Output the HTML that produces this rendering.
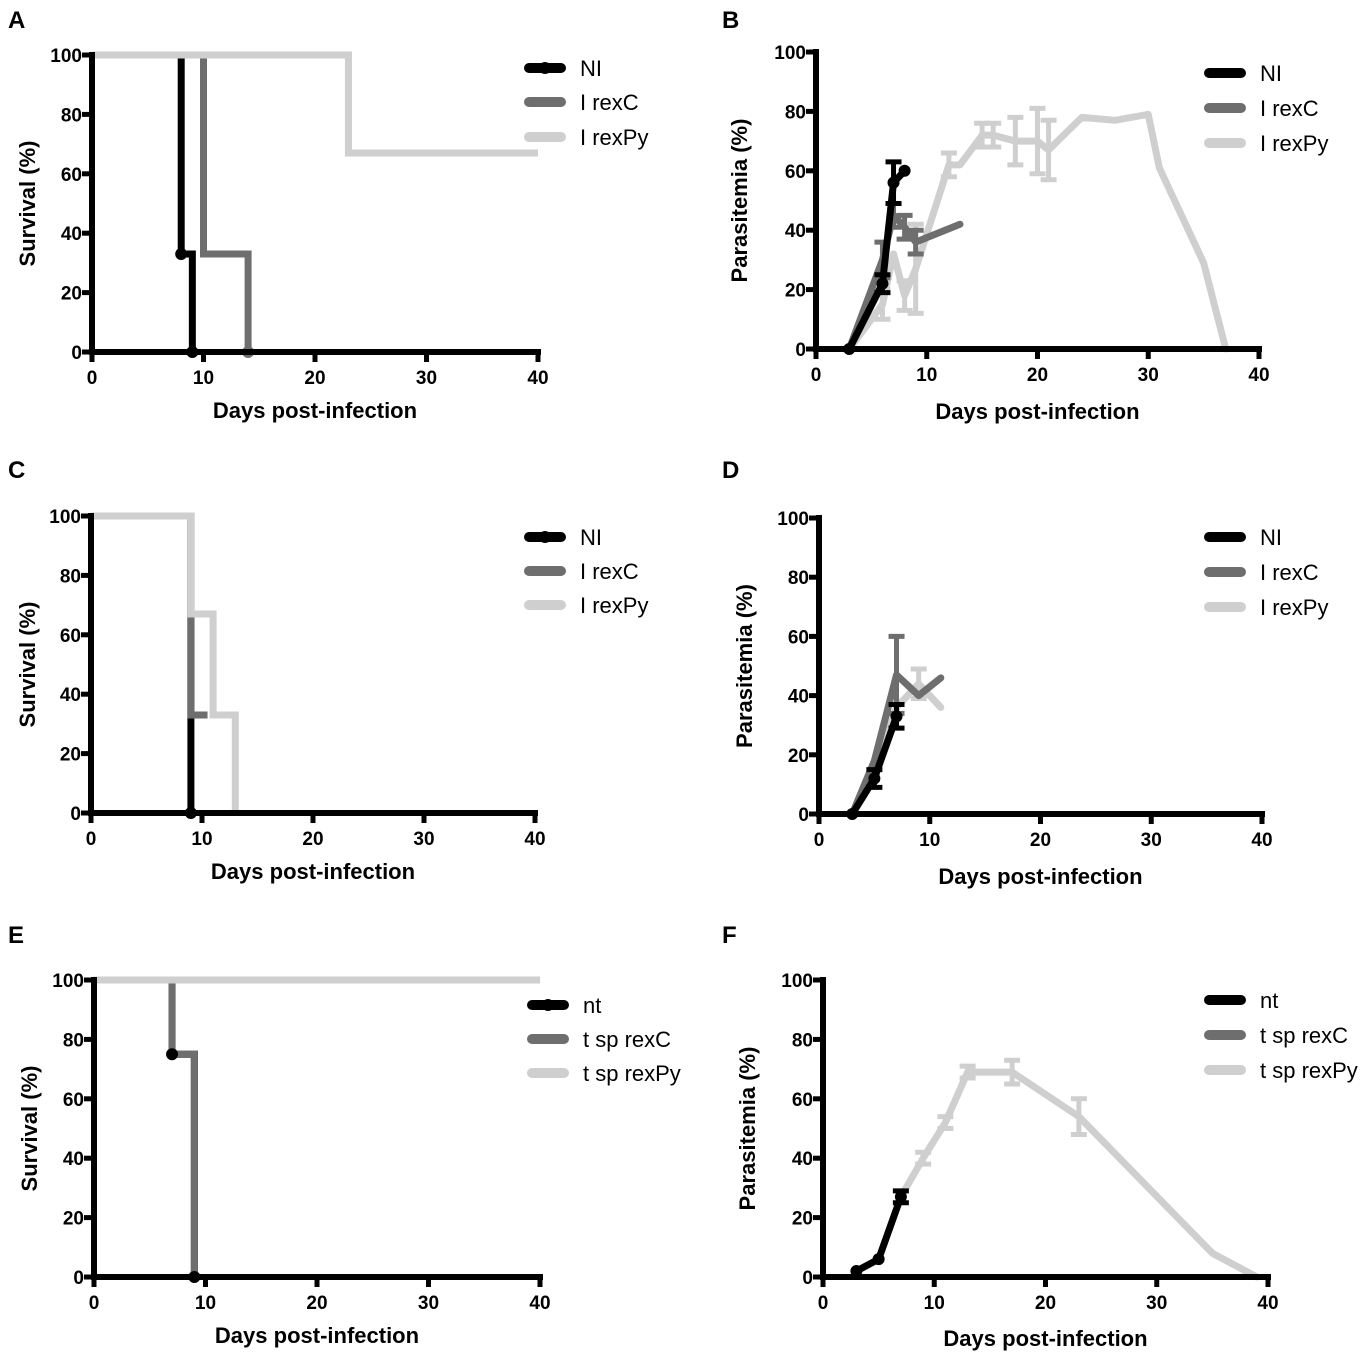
<!DOCTYPE html>
<html><head><meta charset="utf-8"><style>
html,body{margin:0;padding:0;background:#fff;}
svg{display:block;font-family:"Liberation Sans",Arial,sans-serif;}
</style></head><body>
<svg id="fig" width="1369" height="1358" viewBox="0 0 1369 1358"></svg>
<script>
const ticksX=[0,10,20,30,40];
const ticksY=[0,20,40,60,80,100];
const legendAB=["NI","I rexC","I rexPy"];
const legendEF=["nt","t sp rexC","t sp rexPy"];
// Survival data (step functions): [day, %]
const survA_NI=[[0,100],[8,33],[9,0]];
const survA_C=[[0,100],[10,33],[14,0]];
const survA_Py=[[0,100],[23,67],[40,67]];
const survC_NI=[[0,100],[9,0]];
const survC_C=[[0,100],[9,33],[10.5,33]];
const survC_Py=[[0,100],[9,67],[11,33],[13,0]];
const survE_NI=[[0,100],[7,75],[9,0]];
const survE_C=[[0,100],[7,75],[9,0]];
const survE_Py=[[0,100],[40,100]];
const markA_NI=[[8,33],[9,0]];
const markA_C=[[14,0]];
const markC_NI=[[9,0]];
const markE_NI=[[7,75],[9,0]];
// Parasitemia: [day, %, err]
const parB_NI=[[3,0,0],[6,22,3],[7,56,7],[8,60,0]];
const parB_C=[[3,0,0],[6,30,6],[7,45,4],[8,41,4],[9,36,4],[13,42,0]];
const parB_Py=[[3,0,0],[6,15,5],[7,32,0],[8,18,5],[9,27,15],[12,62,4],[13,62,0],[15,72,4],[16,72,4],[18,70,8],[20,70,11],[21,67,10],[24,78,0],[27,77,0],[30,79,0],[31,61,0],[35,29,0],[37,0,0]];
const parD_NI=[[3,0,0],[5,12,3],[7,33,4]];
const parD_C=[[3,0,0],[5,18,0],[7,47,13],[9,40,0],[11,46,0]];
const parD_Py=[[3,0,0],[5,15,0],[7,36,0],[9,44,5],[11,36,0]];
const parF_NI=[[3,2,0],[5,6,0],[7,27,2]];
const parF_Py=[[7,27,0],[9,40,2],[11,52,2],[13,69,2],[17,69,4],[23,54,6],[35,8,0],[39,0,0]];

const COL=["#000","#6e6e6e","#cfcfcf"];
const NS="http://www.w3.org/2000/svg";
const svg=document.getElementById('fig');
function el(tag,attrs,parent){const e=document.createElementNS(NS,tag);for(const k in attrs)e.setAttribute(k,attrs[k]);(parent||svg).appendChild(e);return e;}

const panels=[
 {id:'A',lx:8,ly:28,x0:92,x1:538,y0:352,y1:55,yt:'Survival (%)',ytx:28,xty:418,leg:legendAB,legx:525,legy:[68,102,137],surv:[survA_NI,survA_C,survA_Py],marks:[markA_NI,markA_C,[]]},
 {id:'B',lx:722,ly:28,x0:816,x1:1259,y0:349,y1:52,yt:'Parasitemia (%)',ytx:740,xty:419,leg:legendAB,legx:1205,legy:[73,108,143],par:[parB_NI,parB_C,parB_Py]},
 {id:'C',lx:8,ly:478,x0:91,x1:535,y0:813,y1:516,yt:'Survival (%)',ytx:28,xty:879,leg:legendAB,legx:525,legy:[537,571,605],surv:[survC_NI,survC_C,survC_Py],marks:[markC_NI,[],[]]},
 {id:'D',lx:722,ly:478,x0:819,x1:1262,y0:814,y1:518,yt:'Parasitemia (%)',ytx:745,xty:884,leg:legendAB,legx:1205,legy:[537,572,607],par:[parD_NI,parD_C,parD_Py]},
 {id:'E',lx:8,ly:943,x0:94,x1:540,y0:1277,y1:980,yt:'Survival (%)',ytx:30,xty:1343,leg:legendEF,legx:528,legy:[1005,1039,1073],surv:[survE_NI,survE_C,survE_Py],marks:[markE_NI,[],[]]},
 {id:'F',lx:722,ly:943,x0:823,x1:1268,y0:1277,y1:980,yt:'Parasitemia (%)',ytx:748,xty:1346,leg:legendEF,legx:1205,legy:[1000,1035,1070],par:[parF_NI,[],parF_Py]}
];

panels.forEach(p=>{
 const g=el('g',{});
 
 
 const sx=d=>p.x0+(p.x1-p.x0)*d/40;
 const sy=v=>p.y0-(p.y0-p.y1)*v/100;
 const lt=el('text',{x:p.lx,y:p.ly,'font-size':24,'font-weight':'bold'},g);lt.textContent=p.id;
 
 const order=[2,1,0];
 if(p.surv){
  [0,1,2].forEach(i=>{
   const s=p.surv[i];let d='M'+sx(s[0][0])+','+sy(s[0][1]);
   for(let k=1;k<s.length;k++){d+=' H'+sx(s[k][0])+' V'+sy(s[k][1]);}
   const pa=el('path',{d:d,fill:'none',stroke:COL[i],'stroke-width':7},g);
   
  });
  p.marks.forEach((m,i)=>m.forEach(pt=>{const c=el('circle',{cx:sx(pt[0]),cy:sy(pt[1]),r:6,fill:COL[i]},g);
   }));
 } else {
  order.forEach(i=>{
   const s=p.par[i];if(!s.length)return;
   const pts=s.map(q=>sx(q[0])+','+sy(q[1])).join(' ');
   s.forEach(q=>{if(q[2]>0){const x=sx(q[0]);
    const e=el('path',{d:`M${x},${sy(q[1]-q[2])} V${sy(q[1]+q[2])} M${x-8},${sy(q[1]+q[2])} H${x+8} M${x-8},${sy(q[1]-q[2])} H${x+8}`,stroke:COL[i],'stroke-width':5,fill:'none'},g);
    }});
   const pl=el('polyline',{points:pts,fill:'none',stroke:COL[i],'stroke-width':7,'stroke-linejoin':'round','stroke-linecap':'round'},g);
   
   if(i===0)s.forEach(q=>{const c=el('circle',{cx:sx(q[0]),cy:sy(q[1]),r:6,fill:'#000'},g);
    });
  });
 }
 const ax=el('path',{d:`M${p.x0},${p.y1-3} V${p.y0} H${p.x1+3}`,fill:'none',stroke:'#000','stroke-width':6},g);
 
 ticksX.forEach(t=>{el('line',{x1:sx(t),x2:sx(t),y1:p.y0,y2:p.y0+10,stroke:'#000','stroke-width':5},g);
  const tx=el('text',{x:sx(t),y:p.y0+32,'font-size':19,'font-weight':'bold','text-anchor':'middle'},g);tx.textContent=t;
  });
 ticksY.forEach(t=>{el('line',{x1:p.x0-10,x2:p.x0,y1:sy(t),y2:sy(t),stroke:'#000','stroke-width':5},g);
  const ty=el('text',{x:p.x0-10,y:sy(t)+7,'font-size':19,'font-weight':'bold','text-anchor':'end'},g);ty.textContent=t;
  });
 const xt=el('text',{x:(p.x0+p.x1)/2,y:p.xty,'font-size':22,'font-weight':'bold','text-anchor':'middle'},g);xt.textContent='Days post-infection';
 
 const cy=(p.y0+p.y1)/2;
 const yt=el('text',{x:p.ytx,y:cy,'font-size':22,'font-weight':'bold','text-anchor':'middle',transform:`rotate(-90 ${p.ytx} ${cy})`,dy:7},g);yt.textContent=p.yt;
 
 p.leg.forEach((n,i)=>{const y=p.legy[i];
  const l=el('line',{x1:p.legx+4,x2:p.legx+36,y1:y,y2:y,stroke:COL[i],'stroke-width':10,'stroke-linecap':'round'},g);
  
  if(i===0&&p.surv){const c=el('circle',{cx:p.legx+20,cy:y,r:6,fill:'#000'},g);
   }
  const t=el('text',{x:p.legx+55,y:y+8,'font-size':22},g);t.textContent=n;
  });
});
</script>
</body></html>
